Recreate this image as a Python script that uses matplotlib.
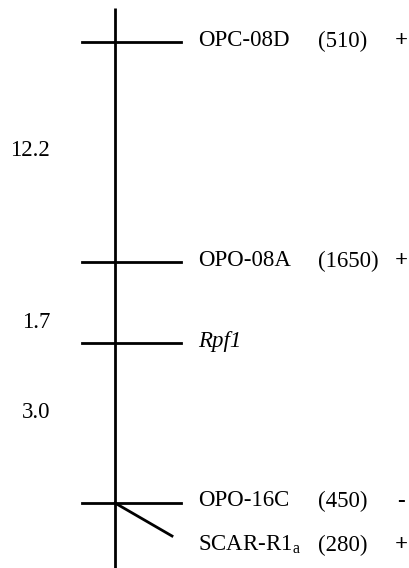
import matplotlib.pyplot as plt

# Linkage group markers (top to bottom), drawn position on the map (not to scale)
markers = ["OPC-08D", "OPO-08A", "Rpf1", "OPO-16C", "SCAR-R1$_\\mathregular{a}$"]
sizes = ["(510)", "(1650)", "", "(450)", "(280)"]
signs = ["+", "+", "", "-", "+"]
positions = [42, 262, 343, 503, 503]
label_y = [41, 261, 342, 501, 545]
distances = ["12.2", "1.7", "3.0"]
distance_y = [150, 322, 413]

plt.rcParams['font.family'] = ['Liberation Serif', 'DejaVu Serif']
plt.rcParams['mathtext.fontset'] = 'custom'
plt.rcParams['mathtext.rm'] = 'Liberation Serif'
plt.rcParams['mathtext.it'] = 'Liberation Serif:italic'

fig = plt.figure(figsize=(4.09, 5.68), dpi=100)
ax = fig.add_axes([0, 0, 1, 1])
ax.set_xlim(0, 409)
ax.set_ylim(568, 0)
ax.axis("off")

fs = 16.5

# chromosome
ax.plot([115, 115], [8, 568], color="black", lw=2.0, solid_capstyle="butt")

for i in range(len(markers)):
    if i < 4:
        ax.plot([82, 181], [positions[i], positions[i]], color="black", lw=2.0)
    else:
        # diagonal connector for co-segregating marker
        ax.plot([115, 172], [positions[i], positions[i] + 33], color="black", lw=2.0)
    style = "italic" if markers[i] == "Rpf1" else "normal"
    ax.text(198, label_y[i], markers[i], fontsize=fs, va="center", ha="left", style=style)
    if sizes[i]:
        ax.text(318, label_y[i], sizes[i], fontsize=fs, va="center", ha="left")
    if signs[i]:
        ax.text(401, label_y[i], signs[i], fontsize=fs, va="center", ha="center",
                fontweight="bold")

for d, y in zip(distances, distance_y):
    ax.text(50, y, d, fontsize=fs, va="center", ha="right")

fig.savefig("out.png", dpi=100)
